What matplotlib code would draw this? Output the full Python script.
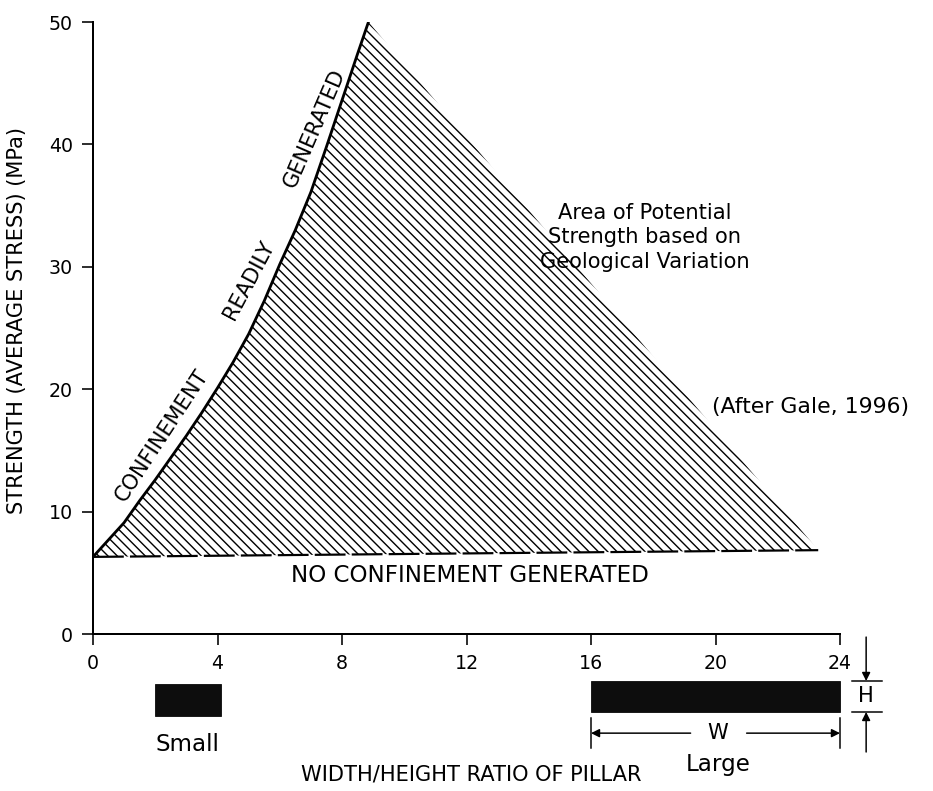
import matplotlib

matplotlib.use("Agg")
import matplotlib.pyplot as plt
from matplotlib.patches import Polygon, Rectangle

DPI = 112
plt.rcParams["font.family"] = ["DejaVu Sans"]
plt.rcParams["hatch.linewidth"] = 0.9


def fs(px):
    # pixel size -> points at this dpi
    return px * 72 / DPI


# ---------- data ----------
curve_x = [0, 0.5, 1, 1.5, 2, 2.5, 3, 3.5, 4, 4.5, 5, 5.5, 6, 6.5, 7, 7.5, 8, 8.5, 8.85]
curve_y = [6.3, 7.7, 9.1, 10.9, 12.6, 14.4, 16.2, 18.1, 20.1, 22.2, 24.5, 27.2, 30.2,
           33.0, 36.1, 39.8, 43.6, 47.4, 50]
base_x = [0, 23.3]
base_y = [6.3, 6.85]
xticks = [0, 4, 8, 12, 16, 20, 24]
yticks = [0, 10, 20, 30, 40, 50]
small_pillar = (2.0, 4.1)      # x range of small pillar sketch
large_pillar = (16.0, 24.0)    # x range of large pillar sketch

fig = plt.figure(figsize=(933 / DPI, 791 / DPI), dpi=DPI)
ax = fig.add_axes([93 / 933, 1 - 634 / 791, 747 / 933, 612 / 791])
ax.set_xlim(0, 24)
ax.set_ylim(0, 50)

# hatched area of potential strength
poly = list(zip(curve_x, curve_y)) + [(base_x[1], base_y[1]), (base_x[0], base_y[0])]
ax.add_patch(Polygon(poly, closed=True, fill=False, hatch="\\\\\\\\", edgecolor="black", linewidth=0))
ax.plot(curve_x, curve_y, color="black", lw=fs(2.8), solid_capstyle="round")
ax.plot(base_x, base_y, color="black", lw=fs(2.2), dashes=(14, 2.8))

# axes styling
for s in ("top", "right"):
    ax.spines[s].set_visible(False)
for s in ("left", "bottom"):
    ax.spines[s].set_linewidth(fs(2))
ax.set_xticks(xticks)
ax.set_yticks(yticks)
ax.tick_params(direction="out", length=fs(11), width=fs(1.6), labelsize=fs(19), pad=fs(9))

# labels along curve
ax.text(2.22, 16.2, "CONFINEMENT", rotation=56.7, ha="center", va="center", fontsize=fs(21))
ax.text(5.0, 28.9, "READILY", rotation=62, ha="center", va="center", fontsize=fs(21))
ax.text(7.12, 41.3, "GENERATED", rotation=66.6, ha="center", va="center", fontsize=fs(21))

ax.text(17.73, 32.4, "Area of Potential\nStrength based on\nGeological Variation",
        ha="center", va="center", fontsize=fs(21), linespacing=1.3)
ax.text(23.04, 18.55, "(After Gale, 1996)", ha="center", va="center", fontsize=fs(22))
ax.text(12.11, 4.74, "NO CONFINEMENT GENERATED", ha="center", va="center", fontsize=fs(23))

# axis titles
ax.text(-2.44, 25.6, "STRENGTH (AVERAGE STRESS) (MPa)", rotation=90, ha="center", va="center",
        fontsize=fs(21), clip_on=False)
ax.text(12.15, -11.44, "WIDTH/HEIGHT RATIO OF PILLAR", ha="center", va="center",
        fontsize=fs(21), clip_on=False)

# pillar sketches below the axis
ax.add_patch(Rectangle((small_pillar[0], -6.7), small_pillar[1] - small_pillar[0], 2.62,
                       facecolor="#0d0d0d", edgecolor="black", lw=0.5, clip_on=False))
ax.text(3.05, -9.0, "Small", ha="center", va="center", fontsize=fs(23), clip_on=False)
ax.add_patch(Rectangle((large_pillar[0], -6.37), large_pillar[1] - large_pillar[0], 2.53,
                       facecolor="#0d0d0d", edgecolor="black", lw=0.5, clip_on=False))
ax.text(20.08, -10.7, "Large", ha="center", va="center", fontsize=fs(23), clip_on=False)

# W dimension
aw = dict(arrowstyle="-|>", color="black", lw=fs(1.5), mutation_scale=fs(17), shrinkA=0, shrinkB=0)
ax.annotate("", xy=(large_pillar[0], -8.1), xytext=(19.2, -8.1), arrowprops=aw, annotation_clip=False)
ax.annotate("", xy=(large_pillar[1], -8.1), xytext=(21.0, -8.1), arrowprops=aw, annotation_clip=False)
ax.text(20.08, -8.1, "W", ha="center", va="center", fontsize=fs(21), clip_on=False)
for xv in large_pillar:
    ax.plot([xv, xv], [-6.86, -9.31], color="black", lw=fs(1.5), clip_on=False)

# H dimension
for yv in (-3.84, -6.37):
    ax.plot([24.39, 25.35], [yv, yv], color="black", lw=fs(1.5), clip_on=False)
ax.annotate("", xy=(24.84, -3.84), xytext=(24.84, -0.25), arrowprops=aw, annotation_clip=False)
ax.annotate("", xy=(24.84, -6.37), xytext=(24.84, -9.64), arrowprops=aw, annotation_clip=False)
ax.text(24.84, -5.1, "H", ha="center", va="center", fontsize=fs(21), clip_on=False)

fig.savefig("out.png", dpi=DPI, facecolor="white")
